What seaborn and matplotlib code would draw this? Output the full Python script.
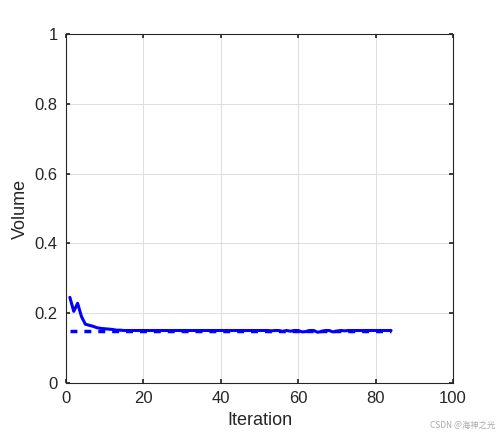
import matplotlib
matplotlib.use('Agg')
import matplotlib.pyplot as plt
import seaborn as sns
import numpy as np

# volume history
iters = np.arange(1, 85)
early = [0.245, 0.205, 0.228, 0.19, 0.168, 0.165, 0.162, 0.158, 0.156, 0.155,
         0.154, 0.153, 0.151, 0.151, 0.15]
late_dips = {53: 0.149, 56: 0.147, 58: 0.148, 61: 0.146, 62: 0.147, 65: 0.145,
             66: 0.147, 69: 0.146, 70: 0.148, 72: 0.149}
volume = []
for i in iters:
    if i <= len(early):
        volume.append(early[i - 1])
    else:
        volume.append(late_dips.get(int(i), 0.15))
target = [0.15] * len(iters)

sns.set_theme(style='white')
plt.rcParams['font.family'] = ['Liberation Sans', 'DejaVu Sans']

fig, ax = plt.subplots(figsize=(5.0, 4.37), dpi=100)
sns.lineplot(x=iters, y=target, ax=ax, color='blue', linewidth=2.5, linestyle=(0, (2, 2)))
sns.lineplot(x=iters, y=volume, ax=ax, color='blue', linewidth=2.2)

ax.set_xlim(0, 100)
ax.set_ylim(0, 1)
ax.set_xticks(range(0, 101, 20))
ax.set_yticks([0, 0.2, 0.4, 0.6, 0.8, 1])
ax.set_yticklabels(['0', '0.2', '0.4', '0.6', '0.8', '1'])
ax.grid(True, color='#dddddd', linewidth=0.7)
for s in ax.spines.values():
    s.set_visible(True)
    s.set_color('#262626')
    s.set_linewidth(0.8)
ax.tick_params(direction='in', length=3, pad=6, labelsize=12, colors='#262626',
               top=True, right=True, left=True, bottom=True)
ax.set_xlabel('Iteration', fontsize=13, color='#262626')
ax.set_ylabel('Volume', fontsize=13, color='#262626')
fig.subplots_adjust(left=0.132, right=0.906, bottom=0.124, top=0.922)
fig.text(0.99, 0.02, 'CSDN @海神之光', fontsize=6, color='#aaaaaa', ha='right',
         family=['Noto Sans CJK SC', 'DejaVu Sans'])
fig.savefig('out.png')
